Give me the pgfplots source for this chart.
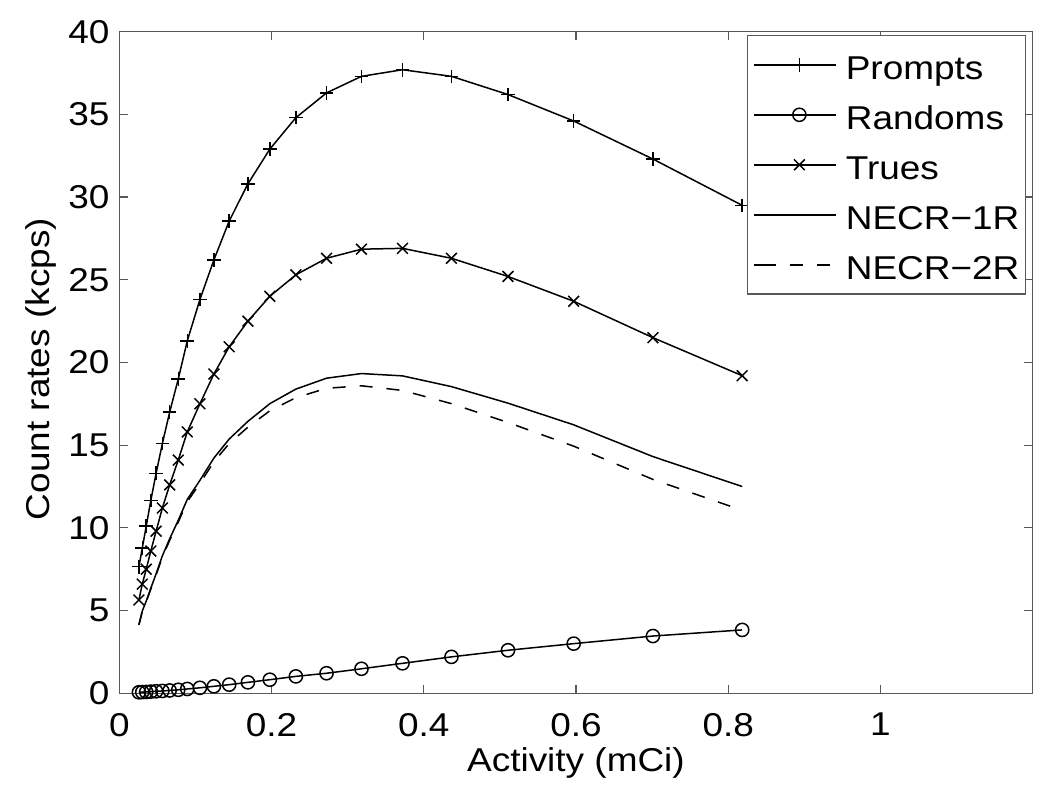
\documentclass[border=0pt]{standalone}
\usepackage{fontspec}
\setmainfont{Liberation Sans}[FakeStretch=1.12]
\usepackage{pgfplots}
\usepackage{pgfplotstable}
\pgfplotsset{compat=1.18}

% activity (mCi), prompts, randoms, trues, NECR-1R, NECR-2R (kcps)
\pgfplotstableread{
x      P      R     T      N1     N2
0.0258 7.65   0.06  5.64   4.16   4.13
0.0302 8.77   0.07  6.60   4.97   4.93
0.0354 10.10  0.08  7.50   5.57   5.53
0.0414 11.65  0.10  8.60   6.35   6.29
0.0484 13.30  0.12  9.80   7.22   7.16
0.0566 15.10  0.14  11.20  8.31   8.23
0.0662 17.00  0.17  12.60  9.34   9.25
0.0775 19.00  0.21  14.10  10.46  10.35
0.0893 21.30  0.26  15.80  11.72  11.58
0.1059 23.80  0.33  17.50  12.87  12.69
0.1243 26.20  0.42  19.30  14.22  13.99
0.1444 28.55  0.52  20.95  15.37  15.10
0.1690 30.80  0.66  22.50  16.44  16.09
0.1978 32.90  0.82  24.00  17.51  17.08
0.2320 34.80  1.02  25.30  18.39  17.87
0.2723 36.30  1.21  26.30  19.05  18.44
0.3182 37.30  1.48  26.85  19.33  18.59
0.3721 37.70  1.81  26.90  19.19  18.31
0.4364 37.30  2.20  26.30  18.54  17.51
0.5107 36.20  2.60  25.20  17.54  16.37
0.5970 34.60  3.00  23.70  16.23  14.94
0.7011 32.30  3.46  21.50  14.31  12.93
0.8184 29.50  3.83  19.20  12.50  11.06
}\rates

\begin{document}
\fontsize{16.5}{20}\selectfont
\begin{tikzpicture}
\begin{axis}[
    scale only axis,
    width=456.7pt, height=330.8pt,
    xmin=0, xmax=1.2, ymin=0, ymax=40,
    xtick={0,0.2,0.4,0.6,0.8,1},
    ytick={0,5,...,40},
    tick align=inside,
    major tick length=4.2pt,
    axis line style={black!65, line width=0.6pt},
    tick style={black!65, line width=0.6pt},
    /pgf/number format/assume math mode=true,
    xticklabel style={inner sep=0pt, yshift=-9.7pt},
    yticklabel style={inner sep=0pt, xshift=-4.7pt},
    xlabel={Activity (mCi)},
    ylabel={Count rates (kcps)},
    xlabel style={at={(axis description cs:0.5,-0.1185)}, anchor=base},
    ylabel style={at={(axis description cs:-0.0759,0.49)}, anchor=base},
    every axis plot/.append style={black, line width=0.75pt},
    every mark/.append style={solid},
    legend image code/.code={
        \path (-4.2pt,0pt) -- (0pt,0pt);
        \draw[mark repeat=2,mark phase=2,#1] plot coordinates {(0pt,0pt) (18.35pt,0pt) (36.7pt,0pt)};
    },
    legend style={at={(0.9927,0.995)}, anchor=north east,
        draw=black!65, line width=0.6pt, fill=white,
        inner xsep=3pt, inner ysep=3pt,
        row sep=1.8pt, column sep=4.5pt,
        nodes={inner sep=0pt, text height=18.75pt, text depth=4.45pt}},
    legend cell align=left,
]
\addplot[mark=+, mark size=3.4pt] table[x=x, y=P] {\rates};
\addlegendentry{Prompts}
\addplot[mark=o, mark size=3.3pt] table[x=x, y=R] {\rates};
\addlegendentry{Randoms}
\addplot[mark=x, mark size=3.8pt] table[x=x, y=T] {\rates};
\addlegendentry{Trues}
\addplot[no marks] table[x=x, y=N1] {\rates};
\addlegendentry{NECR−1R}
\addplot[no marks, dash pattern=on 6.5pt off 7pt] table[x=x, y=N2] {\rates};
\addlegendentry{NECR−2R}

\coordinate (bl) at (axis description cs:-0.1306,-0.1458);
\coordinate (tr) at (axis description cs:1.0190,1.0479);
\end{axis}
\pgfresetboundingbox
\path (bl) rectangle (tr);
\end{tikzpicture}
\end{document}
